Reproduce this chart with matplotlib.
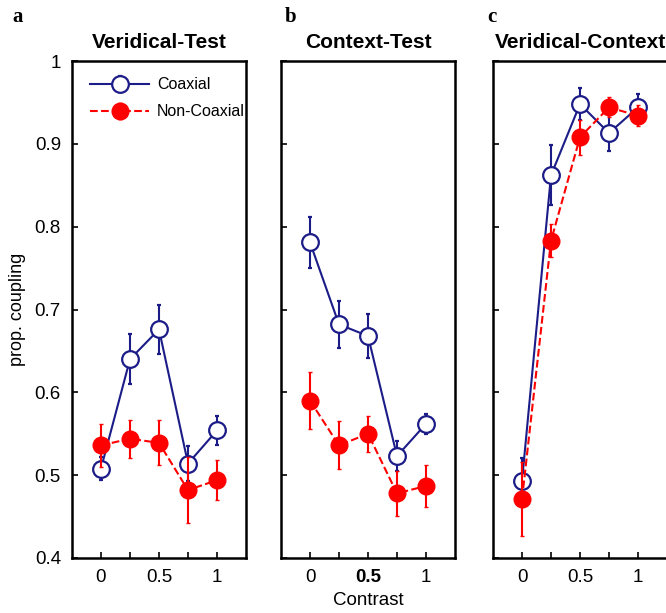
import numpy as np
import matplotlib
matplotlib.use("Agg")
from matplotlib import pyplot as plt

plt.rcParams["font.family"] = ["Liberation Sans", "DejaVu Sans"]

contrast = [0, 0.25, 0.5, 0.75, 1]

titles = ["Veridical-Test", "Context-Test", "Veridical-Context"]
letters = ["a", "b", "c"]

coax = [
    [0.508, 0.640, 0.676, 0.514, 0.554],
    [0.781, 0.682, 0.668, 0.523, 0.562],
    [0.493, 0.862, 0.948, 0.913, 0.944],
]
coax_err = [
    [0.014, 0.030, 0.030, 0.021, 0.017],
    [0.031, 0.028, 0.026, 0.018, 0.012],
    [0.028, 0.036, 0.019, 0.022, 0.016],
]
noncoax = [
    [0.536, 0.544, 0.539, 0.482, 0.494],
    [0.590, 0.536, 0.550, 0.478, 0.487],
    [0.471, 0.783, 0.908, 0.944, 0.934],
]
noncoax_err = [
    [0.026, 0.023, 0.027, 0.040, 0.024],
    [0.034, 0.029, 0.022, 0.027, 0.025],
    [0.045, 0.020, 0.021, 0.012, 0.013],
]

navy = "#1c1c88"
red = "#ff0000"

fig = plt.figure(figsize=(6.66, 6.13), dpi=100)
lefts = [72 / 666, 281 / 666, 493 / 666]
w = 174 / 666
b = 55 / 613
h = 497 / 613

for i in range(3):
    ax = fig.add_axes([lefts[i], b, w, h])
    ax.errorbar(contrast, coax[i], yerr=coax_err[i], color=navy, lw=1.5,
                marker="o", ms=12, mfc="white", mec=navy, mew=1.6,
                elinewidth=1.5, capsize=1.5, label="Coaxial", zorder=2)
    ax.errorbar(contrast, noncoax[i], yerr=noncoax_err[i], color=red, lw=1.5,
                ls="--", marker="o", ms=12, mfc=red, mec=red,
                elinewidth=1.5, capsize=1.5, label="Non-Coaxial", zorder=3)
    ax.set_xlim(-0.25, 1.25)
    ax.set_ylim(0.4, 1.0)
    ax.set_xticks([0, 0.25, 0.5, 0.75, 1])
    ax.set_xticklabels(["0", "", "0.5", "", "1"], fontsize=13.5)
    ax.set_yticks(np.arange(0.4, 1.01, 0.1))
    ax.tick_params(direction="in", length=4, width=1.2, pad=8)
    for s in ax.spines.values():
        s.set_linewidth(1.8)
    if i == 0:
        ax.set_yticklabels(["0.4", "0.5", "0.6", "0.7", "0.8", "0.9", "1"], fontsize=13.5)
        ax.set_ylabel("prop. coupling", fontsize=13, labelpad=6)
        ax.legend(loc="upper left", bbox_to_anchor=(0.04, 0.99), frameon=False,
                  fontsize=11.5, handlelength=3.7, handletextpad=0.5,
                  borderaxespad=0.3, labelspacing=0.75)
    else:
        ax.set_yticklabels([])
    if i == 1:
        ax.get_xticklabels()[2].set_fontweight("bold")
        ax.set_xlabel("Contrast", fontsize=13.5, labelpad=4)
    ax.set_title(titles[i], fontsize=15, fontweight="bold", pad=9)
    fig.text([12, 285, 487][i] / 666, 1 - 17 / 613, letters[i],
             fontsize=15, fontweight="bold", family="Liberation Serif",
             va="center", ha="left")

fig.savefig("out.png", dpi=100)
